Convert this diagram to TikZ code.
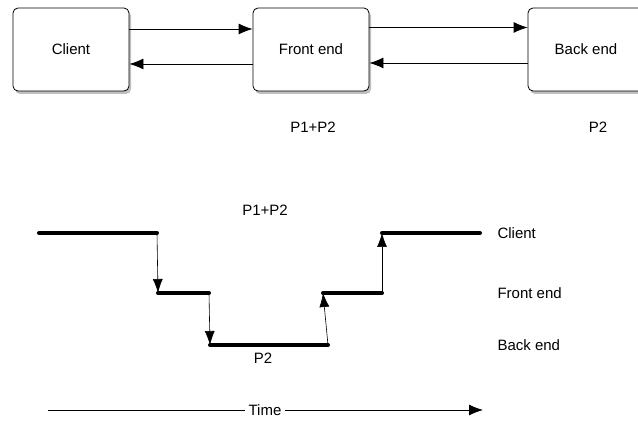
\documentclass[tikz,border=0pt]{standalone}
\usepackage{fontspec}
\setmainfont{Liberation Sans}
\usetikzlibrary{shadows,arrows.meta}

\tikzset{
  tier/.style={draw, thick, rounded corners=5pt, fill=white, minimum width=116pt, minimum height=83pt,
    drop shadow={shadow xshift=2pt, shadow yshift=-3pt, opacity=0.5}},
  call/.style={-{Latex[length=14pt,width=11pt]}, thick},
  busy/.style={line width=4pt, line cap=round},
  hop/.style={-{Latex[length=14pt,width=10pt]}, semithick},
  lbl/.style={font=\fontsize{15}{17}\selectfont}
}

\begin{document}
\begin{tikzpicture}[x=1pt, y=1pt, lbl]
\useasboundingbox (0,0) rectangle (638,422);

% top: the three tiers
\node[tier] (client) at (71, 372.5) {Client};
\node[tier] (front) at (311, 372.5) {Front end};
\node[tier] (back) at (586, 372.5) {Back end};

\draw[call] ([yshift=20.5pt]client.east) -- ([yshift=20.5pt]front.west);
\draw[call] ([yshift=-14.5pt]front.west) -- ([yshift=-14.5pt]client.east);
\draw[call] ([yshift=22pt]front.east) -- ([yshift=22pt]back.west);
\draw[call] ([yshift=-13.5pt]back.west) -- ([yshift=-13.5pt]front.east);

\node (fload) at (313, 295) {P1+P2};
\node (bload) at (598, 295) {P2};

% bottom: timeline
\def\yc{189}
\def\yf{129}
\def\yb{77}

\coordinate (c1) at (39, \yc);
\coordinate (c2) at (157, \yc);
\coordinate (f1) at (158, \yf);
\coordinate (f2) at (209, \yf);
\coordinate (b1) at (210, \yb);
\coordinate (b2) at (328, \yb);
\coordinate (f3) at (323, \yf);
\coordinate (f4) at (382, \yf);
\coordinate (c3) at (382, \yc);
\coordinate (c4) at (480, \yc);

\draw[busy] (c1) -- (c2);
\draw[busy] (f1) -- (f2);
\draw[busy] (b1) -- (b2);
\draw[busy] (f3) -- (f4);
\draw[busy] (c3) -- (c4);

\draw[hop] (c2) -- (f1);
\draw[hop] (f2) -- (b1);
\draw[hop] (b2) -- (f3);
\draw[hop] (f4) -- (c3);

\node (total) at (265, 212) {P1+P2};
\node (part) at (263, 64) {P2};

\node[anchor=west] (lclient) at (494, \yc) {Client};
\node[anchor=west] (lfront) at (494, \yf) {Front end};
\node[anchor=west] (lback) at (494, \yb) {Back end};

\coordinate (tstart) at (48, 12);
\coordinate (tend) at (483, 12);
\node (time) at (265, 12) {Time};
\draw[thick] (tstart) -- (time.west);
\draw[call] (time.east) -- (tend);

\end{tikzpicture}
\end{document}
